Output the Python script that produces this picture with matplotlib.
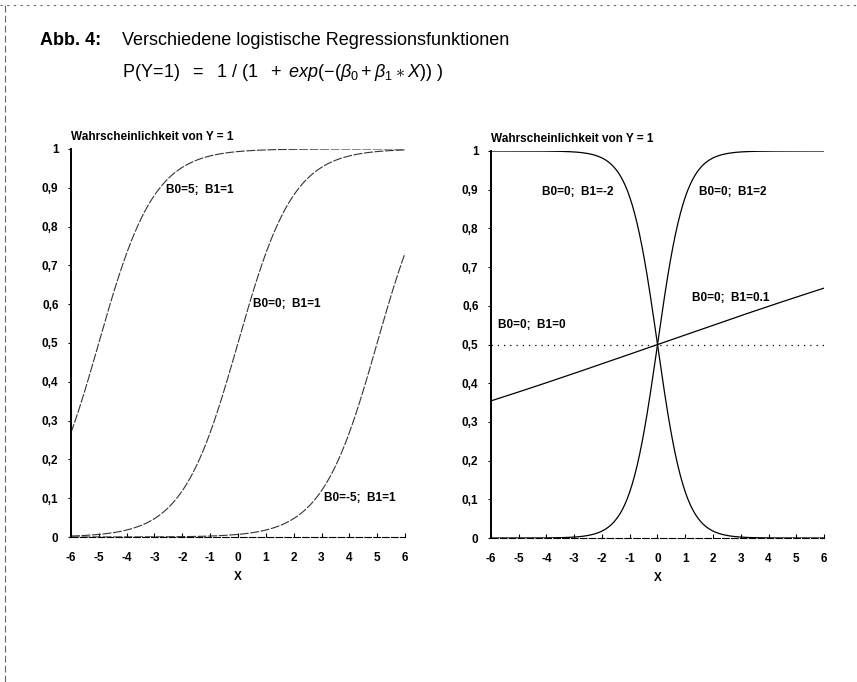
import numpy as np
import matplotlib
matplotlib.use("Agg")
from matplotlib import pyplot as plt
from matplotlib.lines import Line2D

plt.rcParams['font.family'] = ['Liberation Sans', 'DejaVu Sans']
plt.rcParams['mathtext.fontset'] = 'custom'
plt.rcParams['mathtext.rm'] = 'Liberation Sans'
plt.rcParams['mathtext.it'] = 'Liberation Sans:italic'

# Parameter der Kurven
left_b0 = [5, 0, -5]
left_b1 = [1, 1, 1]
left_labels = ["B0=5;  B1=1", "B0=0;  B1=1", "B0=-5;  B1=1"]
left_label_pos = [(-2.6, 0.895), (0.55, 0.60), (3.1, 0.10)]

right_b0 = [0, 0, 0, 0]
right_b1 = [-2, 2, 0.1, 0]
right_labels = ["B0=0;  B1=-2", "B0=0;  B1=2", "B0=0;  B1=0.1", "B0=0;  B1=0"]
right_label_pos = [(-4.15, 0.895), (1.5, 0.895), (1.25, 0.62), (-5.75, 0.55)]
right_styles = ['-', '-', '-', (0, (1, 4))]

x_ticks = list(range(-6, 7))
y_ticks = [0, 0.1, 0.2, 0.3, 0.4, 0.5, 0.6, 0.7, 0.8, 0.9, 1]
y_ticklabels = ["0", "0,1", "0,2", "0,3", "0,4", "0,5", "0,6", "0,7", "0,8", "0,9", "1"]

x = np.linspace(-6, 6, 400)


def logistic(b0, b1):
    return 1 / (1 + np.exp(-(b0 + b1 * x)))


def style_axes(ax):
    ax.set_xlim(-6, 6)
    ax.set_ylim(0, 1)
    ax.spines['top'].set_visible(False)
    ax.spines['right'].set_visible(False)
    ax.spines['left'].set_linewidth(1.4)
    ax.spines['bottom'].set_linewidth(0.8)
    ax.spines['bottom'].set_linestyle((0, (6, 2)))
    ax.set_xticks(x_ticks)
    ax.set_xticklabels([str(t) for t in x_ticks], fontsize=8.5, fontweight='bold')
    ax.set_yticks(y_ticks)
    ax.set_yticklabels(y_ticklabels, fontsize=8.5, fontweight='bold')
    ax.tick_params(axis='x', direction='in', length=3, width=0.8, pad=11)
    ax.tick_params(axis='y', direction='out', length=2, width=0.8, pad=7)
    ax.set_xlabel("X", fontsize=8.5, fontweight='bold', labelpad=5)
    ax.text(0.0, 1.015, "Wahrscheinlichkeit von Y = 1", transform=ax.transAxes,
            fontsize=8.5, fontweight='bold', ha='left', va='bottom')


fig = plt.figure(figsize=(8.57, 6.82), dpi=100)

ax1 = fig.add_axes([0.0828, 0.2126, 0.3898, 0.569])
for b0, b1 in zip(left_b0, left_b1):
    ax1.plot(x, logistic(b0, b1), color='#333333', lw=0.8, ls=(0, (8, 1.5)))
for lab, (lx, ly) in zip(left_labels, left_label_pos):
    ax1.text(lx, ly, lab, fontsize=8.5, fontweight='bold', ha='left', va='center')
style_axes(ax1)

ax2 = fig.add_axes([0.5729, 0.2111, 0.3886, 0.5675])
for b0, b1, ls in zip(right_b0, right_b1, right_styles):
    ax2.plot(x, logistic(b0, b1), color='black', lw=0.9, ls=ls)
for lab, (lx, ly) in zip(right_labels, right_label_pos):
    ax2.text(lx, ly, lab, fontsize=8.5, fontweight='bold', ha='left', va='center')
style_axes(ax2)

# Überschrift
fig.text(0.047, 0.940, "Abb. 4:", fontsize=13, fontweight='bold', ha='left', va='center')
fig.text(0.142, 0.940, "Verschiedene logistische Regressionsfunktionen",
         fontsize=13, ha='left', va='center')
fig.text(0.142, 0.893,
         r"$\mathrm{P(Y\!=\!1)\ \ =\ \ 1\ /\ (1\ \ +\ }exp(-(\beta_0+\beta_1\ast X))\ )$",
         fontsize=13, ha='left', va='center')

# Rahmen des Scans
fig.add_artist(Line2D([0.0, 1.0], [0.993, 0.993], transform=fig.transFigure,
                      color='#666666', lw=0.8, ls=(0, (2, 4))))
fig.add_artist(Line2D([0.006, 0.006], [0.0, 0.993], transform=fig.transFigure,
                      color='#666666', lw=0.8, ls=(0, (6, 3))))

fig.savefig("out.png", dpi=100, facecolor='white')
